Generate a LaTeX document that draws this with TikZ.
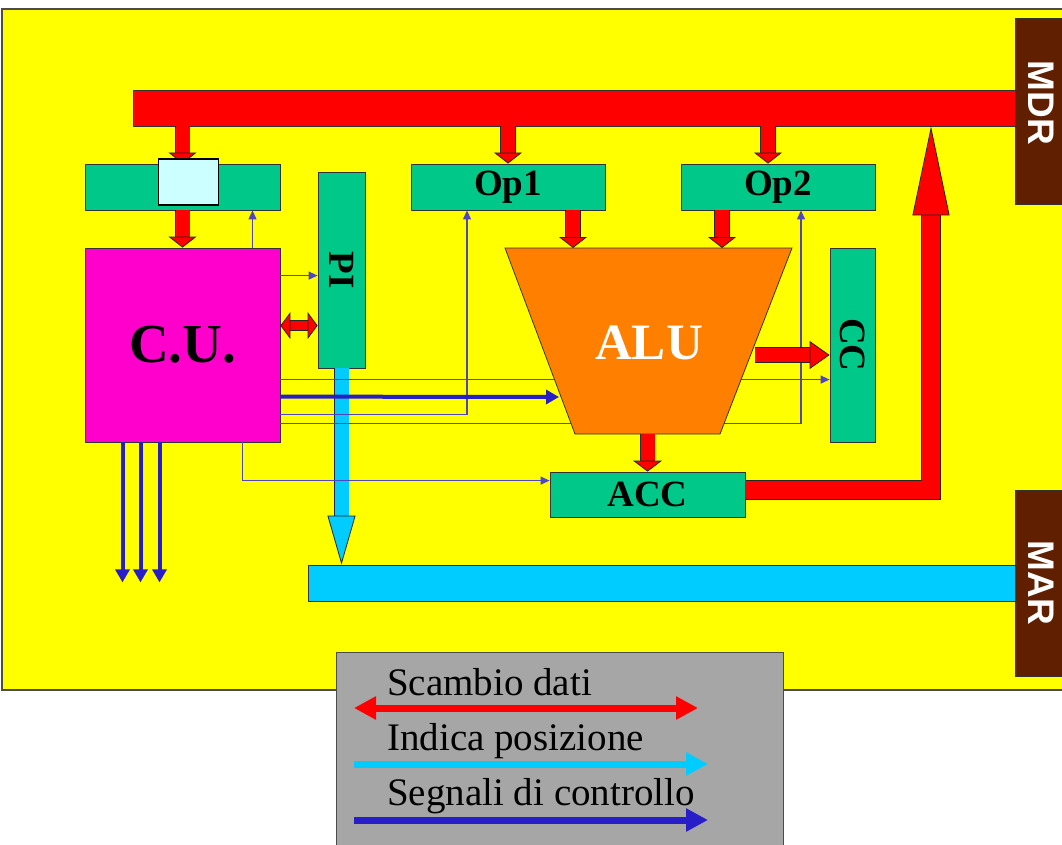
\documentclass[tikz,border=0pt]{standalone}
\usepackage{fontspec}
\setmainfont{Liberation Serif}
\newfontfamily\regsans{Liberation Sans}
\usetikzlibrary{arrows.meta,calc}
\definecolor{bgyellow}{RGB}{255,255,0}
\definecolor{busred}{RGB}{255,0,0}
\definecolor{regreen}{RGB}{0,200,136}
\definecolor{cumag}{RGB}{255,0,204}
\definecolor{aluor}{RGB}{255,128,0}
\definecolor{poscyan}{RGB}{0,204,255}
\definecolor{irlight}{RGB}{204,255,255}
\definecolor{brownreg}{RGB}{96,32,0}
\definecolor{ctlblue}{RGB}{40,30,200}
\definecolor{thinblue}{RGB}{80,70,195}
\definecolor{leggray}{RGB}{166,166,166}
\tikzset{
  outl/.style={draw=black!80, line width=0.8pt},
  box/.style={outl, fill=regreen, inner sep=0pt, font=\fontsize{37}{40}\selectfont\bfseries},
  busbar/.style={outl, inner sep=0pt},
  extreg/.style={outl, fill=brownreg, text=white, inner sep=0pt, font=\regsans\fontsize{37}{40}\selectfont\bfseries},
  blk/.style n args={5}{preaction={draw=black!85, line width=#3, -, shorten >=#5},
    draw=#1, line width=#2, line join=miter,
    -{Triangle[width=#4, length=#5, fill=#1, color=black!85, line width=0.8pt]}},
  blkdbl/.style n args={5}{preaction={draw=black!85, line width=#3, -, shorten >=#5, shorten <=#5},
    draw=#1, line width=#2,
    {Triangle[width=#4, length=#5, fill=#1, color=black!85, line width=0.8pt]}-{Triangle[width=#4, length=#5, fill=#1, color=black!85, line width=0.8pt]}},
  ctl/.style={draw=thinblue, line width=1.2pt, -{Triangle[width=8pt, length=9pt]}},
  ctlthick/.style={draw=ctlblue, line width=4pt, -{Triangle[width=14pt, length=13pt]}},
  legtext/.style={anchor=base west, inner sep=0pt, font=\fontsize{39}{42}\selectfont},
  legarrow/.style={draw=#1, line width=7pt, -{Triangle[width=22pt, length=22pt]}},
}
\begin{document}
\begin{tikzpicture}[x=1pt,y=-1pt]
\useasboundingbox (0,0) rectangle (1062,845);
\fill[white] (0,0) rectangle (1062,845);
\draw[fill=bgyellow, draw=black!70, line width=1.2pt] (2,9) rectangle (1075,690);
\draw[fill=leggray, draw=black!70, line width=1pt] (336,652) rectangle (783,860);

% buses and external registers
\node[busbar, fill=busred, minimum width=882pt, minimum height=36pt] (dbus) at (574,108) {};
\node[busbar, fill=poscyan, minimum width=707pt, minimum height=36pt] (abus) at (661.5,583) {};
\node[extreg, minimum width=52pt, minimum height=186pt] (MDR) at (1041,111) {\rotatebox{-90}{MDR\hspace{16pt}}};
\node[extreg, minimum width=52pt, minimum height=186pt] (MAR) at (1041,583) {\rotatebox{-90}{MAR}};

% internal registers
\node[box, minimum width=195pt, minimum height=46pt] (IR) at (182.5,187) {};
\node[box, fill=cumag, minimum width=195pt, minimum height=194pt, font=\fontsize{55}{58}\selectfont\bfseries] (CU) at (182.5,345) {C.U.};
\node[box, minimum width=47pt, minimum height=196pt] (PI) at (341.5,270) {\rotatebox{-90}{PI}};
\node[box, minimum width=194pt, minimum height=46pt] (Op1) at (508,187) {Op1};
\node[box, minimum width=194pt, minimum height=46pt] (Op2) at (778,187) {Op2};
\node[box, minimum width=45pt, minimum height=194pt] (CC) at (852.5,345) {\rotatebox{-90}{CC}};
\node[box, minimum width=195pt, minimum height=45pt] (ACC) at (647.5,494.5) {ACC};

% position arrow from PI to the address bus
\draw[blk={poscyan}{14pt}{15.6pt}{28pt}{49pt}] (PI.south) -- (PI.south |- abus.north);

% thin control signals
\coordinate (c1) at ($(CU.north east)+(0,28)$);
\coordinate (c2) at ($(CU.north east)+(0,132)$);
\coordinate (c3) at ($(CU.north east)+(0,149)$);
\coordinate (c4) at ($(CU.north east)+(0,167)$);
\coordinate (c5) at ($(CU.north east)+(0,176)$);
\draw[ctl] (c1) -- (c1 -| PI.west);
\draw[ctl] (c2) -- (c2 -| CC.west);
\draw[ctl] (c4) -| ($(Op1.south)+(-41,0)$);
\draw[ctl] (c5) -| ($(Op2.south)+(23,0)$);
\draw[ctl] ($(CU.south)+(60,0)$) |- ($(ACC.north west)+(0,9)$);
\draw[ctl] ($(CU.north)+(70,0)$) -- ($(IR.south)+(70,0)$);

% ALU
\draw[outl, fill=aluor] (505,248) coordinate (aluTL) -- (792,248) coordinate (aluTR)
  -- (720,434) coordinate (aluBR) -- (575,434) coordinate (aluBL) -- cycle;
\node[inner sep=0pt, text=white, font=\fontsize{51}{54}\selectfont\bfseries] (ALU) at (649,343) {ALU};

% thick control into ALU
\coordinate (aluin) at (559,397);
\draw[ctlthick] (c3) -- (aluin);

% data arrows
\draw[blk={busred}{14pt}{15.6pt}{28pt}{11pt}] (dbus.south -| IR.north) -- (IR.north);
\draw[blk={busred}{14pt}{15.6pt}{28pt}{11pt}] (IR.south) -- (CU.north);
\draw[blk={busred}{14pt}{15.6pt}{28pt}{11pt}] (dbus.south -| Op1.north) -- (Op1.north);
\coordinate (o2n) at ($(Op2.north)+(-10,0)$);
\draw[blk={busred}{14pt}{15.6pt}{28pt}{11pt}] (dbus.south -| o2n) -- (o2n);
\coordinate (o1s) at ($(Op1.south)+(65,0)$);
\coordinate (o2s) at ($(Op2.south)+(-56,0)$);
\draw[blk={busred}{14pt}{15.6pt}{28pt}{11pt}] (o1s) -- (o1s |- aluTL);
\draw[blk={busred}{14pt}{15.6pt}{28pt}{11pt}] (o2s) -- (o2s |- aluTL);
\draw[blk={busred}{14pt}{15.6pt}{29pt}{11pt}] (ACC.north |- aluBL) -- (ACC.north);
\coordinate (a2c) at (755,355);
\draw[blk={busred}{14pt}{15.6pt}{28pt}{20pt}] (a2c) -- (a2c -| CC.west);
\coordinate (accout) at ($(ACC.east)+(0,-4.5)$);
\coordinate (accturn) at (931,490);
\draw[blk={busred}{18pt}{19.6pt}{37pt}{89pt}] (accout) -- (accturn) -- (accturn |- dbus.south);
\coordinate (cpi) at ($(CU.north east)+(0,78)$);
\draw[blkdbl={busred}{9pt}{10.6pt}{27pt}{10pt}] (cpi) -- (cpi -| PI.west);

% instruction register inner box
\node[draw=black, line width=1.3pt, fill=irlight, minimum width=60pt, minimum height=46pt, inner sep=0pt] (irb) at (188.5,182) {};

% control signals leaving the CU
\foreach \dx/\nm in {-60/s1,-42/s2,-23/s3} {
  \coordinate (\nm a) at ($(CU.south)+(\dx,0)$);
  \coordinate (\nm b) at ($(CU.south)+(\dx,140)$);
  \draw[ctlthick] (\nm a) -- (\nm b);
}

% legend
\node[legtext] (lg1) at (387,695) {Scambio dati};
\coordinate (lg1a) at (354,708); \coordinate (lg1b) at (698,708);
\draw[draw=busred, line width=7pt, {Triangle[width=22pt, length=22pt]}-{Triangle[width=22pt, length=22pt]}] (lg1a) -- (lg1b);
\node[legtext] (lg2) at (387,750) {Indica posizione};
\coordinate (lg2a) at (354,764); \coordinate (lg2b) at (708,764);
\draw[legarrow=poscyan] (lg2a) -- (lg2b);
\node[legtext] (lg3) at (387,805) {Segnali di controllo};
\coordinate (lg3a) at (354,820); \coordinate (lg3b) at (708,820);
\draw[legarrow=ctlblue] (lg3a) -- (lg3b);
\end{tikzpicture}
\end{document}
